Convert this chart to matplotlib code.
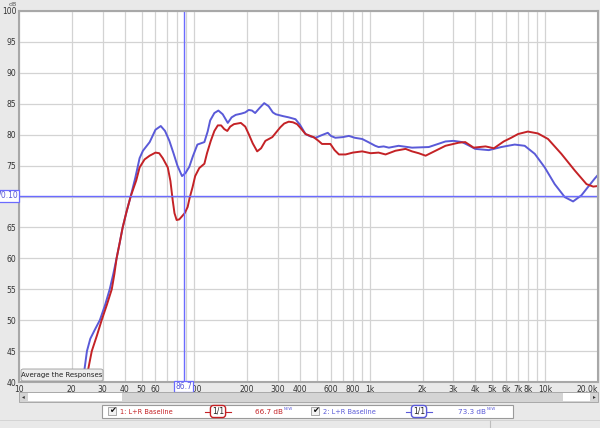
import matplotlib
matplotlib.use("Agg")
import matplotlib.pyplot as plt
from matplotlib.patches import Rectangle, FancyBboxPatch
from matplotlib.lines import Line2D

blue_freq = [23.1, 24.4, 25.5, 27.0, 28.9, 31, 32.9, 34.5, 36.0, 37.5, 39.0, 41, 43.3, 46,
             48.7, 50.9, 55.6, 60, 64.3, 68, 72, 76, 80, 85, 89, 93.5, 98, 104, 114, 119,
             123, 130, 137, 145, 155, 163, 172, 185, 195, 204, 213, 222, 235, 250, 265, 280,
             291, 320, 345, 377, 400, 430, 460, 491, 530, 576, 600, 636, 700, 760, 820, 905,
             980, 1074, 1122, 1200, 1285, 1460, 1740, 2170, 2450, 2700, 3000, 3360, 3700,
             3990, 4770, 5620, 6700, 7640, 8720, 9940, 11330, 12930, 14420, 16100, 17500,
             19160, 20000]
blue_db = [40, 45, 47, 48.4, 50, 52.5, 55, 57.5, 60, 62.5, 65, 67.5, 70, 73,
           76.2, 77.4, 78.8, 80.8, 81.4, 80.6, 79, 77, 75, 73.3, 73.8, 74.8, 76.5, 78.4, 78.8, 80.5,
           82.3, 83.5, 83.9, 83.3, 81.9, 82.8, 83.2, 83.4, 83.6, 84.0, 83.9, 83.5, 84.3, 85.1, 84.6, 83.6,
           83.3, 83.0, 82.8, 82.5, 81.6, 80.1, 79.7, 79.5, 79.9, 80.3, 79.8, 79.5, 79.6, 79.8, 79.5, 79.3,
           78.8, 78.2, 78.0, 78.1, 77.9, 78.2, 77.9, 78.0, 78.5, 78.9, 79.0, 78.8, 78.2,
           77.7, 77.5, 78.0, 78.4, 78.2, 76.9, 74.7, 72.0, 69.9, 69.2, 70.2, 71.5,
           72.9, 73.5]

red_freq = [24.0, 26.0, 27.8, 29.6, 31.7, 33.8, 35.0, 36.0, 37.5, 39.0, 41, 43.3, 46.6, 48.7,
            52, 55.6, 60, 63, 66, 70.5, 73, 75.2, 77, 79.2, 82, 85.6, 88, 91.5, 94, 97.6, 101,
            106.6, 114, 118, 124, 130, 136, 142, 148, 154, 160, 168, 184, 195, 204, 215, 228,
            240, 254, 278, 295, 309, 325, 345, 365, 385, 405, 430, 478, 510, 534, 596, 630,
            667, 728, 800, 905, 1012, 1122, 1230, 1400, 1600, 1740, 1900, 2080, 2370, 2700,
            3210, 3500, 3910, 4570, 5100, 5800, 6400, 7000, 7960, 9090, 10380, 12360, 14750,
            17200, 18800, 20000]
red_db = [40, 45, 47.5, 50, 52.5, 55, 57.5, 60, 62.5, 65, 67.5, 70, 72.6, 74.7,
          76, 76.6, 77.1, 77.0, 76.2, 74.7, 72.5, 69.4, 67.3, 66.2, 66.3, 66.9, 67.3, 68.3, 69.8, 71.5, 73.3,
          74.6, 75.3, 77, 79.0, 80.6, 81.5, 81.5, 80.9, 80.6, 81.3, 81.7, 81.9, 81.3, 80.1, 78.6, 77.3,
          77.8, 79.0, 79.6, 80.5, 81.2, 81.8, 82.1, 82.0, 81.7, 81.0, 80.1, 79.6, 79.0, 78.5, 78.5, 77.5,
          76.8, 76.8, 77.1, 77.3, 77.0, 77.1, 76.8, 77.4, 77.7, 77.3, 77.0, 76.6, 77.4, 78.2,
          78.7, 78.8, 77.9, 78.1, 77.8, 78.9, 79.5, 80.1, 80.5, 80.2, 79.3, 76.9, 74.2,
          72.0, 71.6, 71.7]

grid_freq = [10, 20, 30, 40, 50, 60, 70, 80, 90, 100, 200, 300, 400, 500, 600, 700, 800, 900,
             1000, 2000, 3000, 4000, 5000, 6000, 7000, 8000, 9000, 10000, 20000]
grid_labels = ['10', '20', '30', '40', '50', '60', '', '', '', '100', '200', '300', '400', '',
               '600', '', '800', '', '1k', '2k', '3k', '4k', '5k', '6k', '7k', '8k', '', '10k', '20.0k']
db_ticks = list(range(40, 101, 5))
db_labels = ['' if v == 70 else str(v) for v in db_ticks]  # hidden behind the cursor box

cursor_freq = 86.7
cursor_db = 70.10
red_cursor_text = '66.7 dB'
blue_cursor_text = '73.3 dB'

RED = '#c42226'
BLUE = '#5a5ad8'
CURSOR = '#6b6bff'

W, H = 600, 428
fig = plt.figure(figsize=(6, 4.28), dpi=100, facecolor='#e9e9e9')


def fx(x):
    return x / W


def fy(y):
    return 1 - y / H


ax = fig.add_axes([fx(19), fy(382), fx(598) - fx(19), fy(11) - fy(382)])
ax.set_facecolor('white')
ax.set_xscale('log')
ax.set_xlim(10, 20000)
ax.set_ylim(40, 100)
ax.set_xticks(grid_freq)
ax.set_xticklabels(grid_labels)
ax.minorticks_off()
ax.get_xticklabels()[-1].set_horizontalalignment('right')
ax.set_yticks(db_ticks)
ax.set_yticklabels(db_labels)
ax.tick_params(length=0, labelsize=5.5, labelcolor='#333333', pad=2)
ax.grid(True, color='#d3d3d3', linewidth=0.9)
ax.set_axisbelow(True)
for s in ax.spines.values():
    s.set_color('#a8a8a8')
    s.set_linewidth(1.5)

ax.plot(blue_freq, blue_db, color=BLUE, linewidth=1.4, solid_joinstyle='round')
ax.plot(red_freq, red_db, color=RED, linewidth=1.4, solid_joinstyle='round')
ax.axvline(cursor_freq, color=CURSOR, linewidth=1.0)
ax.axhline(cursor_db, color=CURSOR, linewidth=1.0)

# cursor readouts on the axes
ax.text(cursor_freq, 40, '86.7', transform=ax.transData, ha='center', va='top',
        fontsize=5.5, color=BLUE,
        bbox=dict(boxstyle='square,pad=0.15', fc='white', ec=CURSOR, lw=0.9))
fig.text(fx(18), fy(196), '70.10', ha='right', va='center', fontsize=5.5, color=BLUE,
         bbox=dict(boxstyle='square,pad=0.15', fc='white', ec=CURSOR, lw=0.9))
fig.text(fx(13), fy(5), 'dB', ha='center', va='center', fontsize=4.5, color='#555555')

# "Average the Responses" button
fig.patches.append(FancyBboxPatch((fx(21), fy(381)), fx(103) - fx(21), fy(369) - fy(381),
                                  boxstyle='round,pad=0,rounding_size=0.004',
                                  transform=fig.transFigure, fc='#ececec', ec='#9a9a9a', lw=0.6))
fig.text(fx(62), fy(375), 'Average the Responses', ha='center', va='center',
         fontsize=5, color='#222222')

# scrollbar under the frequency axis
fig.patches.append(Rectangle((fx(19), fy(402)), fx(598) - fx(19), fy(392) - fy(402),
                             transform=fig.transFigure, fc='#d4d4d4', ec='#a0a0a0', lw=0.6))
fig.patches.append(Rectangle((fx(28), fy(401)), fx(122) - fx(28), fy(393) - fy(401),
                             transform=fig.transFigure, fc='white', ec='none'))
fig.patches.append(Rectangle((fx(563), fy(401)), fx(590) - fx(563), fy(393) - fy(401),
                             transform=fig.transFigure, fc='white', ec='none'))
fig.text(fx(23.5), fy(397), '◂', ha='center', va='center', fontsize=4, color='#333333')
fig.text(fx(594), fy(397), '▸', ha='center', va='center', fontsize=4, color='#333333')

# legend strip
fig.patches.append(Rectangle((fx(102), fy(418)), fx(513) - fx(102), fy(405) - fy(418),
                             transform=fig.transFigure, fc='white', ec='#9a9a9a', lw=0.8))
fig.add_artist(Line2D([fx(490), fx(490)], [fy(428), fy(420)], color='#bdbdbd', lw=0.8))
fig.add_artist(Line2D([0, 1], [fy(420), fy(420)], color='#d0d0d0', lw=0.6))

entries = [(112, '1: L+R Baseline', RED, 218, 255, red_cursor_text),
           (315, '2: L+R Baseline', BLUE, 419, 458, blue_cursor_text)]
for cx, name, col, bx, vx, val in entries:
    fig.patches.append(Rectangle((fx(cx - 4), fy(415)), fx(8), fy(407) - fy(415),
                                 transform=fig.transFigure, fc='#f2f2f2', ec='#8a8a8a', lw=0.5))
    fig.text(fx(cx + 0.5), fy(410.5), '✔', ha='center', va='center', fontsize=6, color='#111111')
    fig.text(fx(cx + 8), fy(411.5), name, ha='left', va='center', fontsize=4.8, color=col)
    fig.add_artist(Line2D([fx(bx - 13), fx(bx + 13)], [fy(411.5), fy(411.5)], color=col, lw=0.8))
    fig.text(fx(bx), fy(411.5), '1/1', ha='center', va='center', fontsize=5.5, color='#222222',
             bbox=dict(boxstyle='round,pad=0.2,rounding_size=0.4', fc='white', ec=col, lw=1.0))
    fig.text(fx(vx), fy(411.5), val, ha='left', va='center', fontsize=5.2, color=col)
    fig.text(fx(vx + 29), fy(409), 'NEW', ha='left', va='center', fontsize=2.8, color=BLUE)

fig.savefig('out.png', dpi=100, facecolor=fig.get_facecolor())
